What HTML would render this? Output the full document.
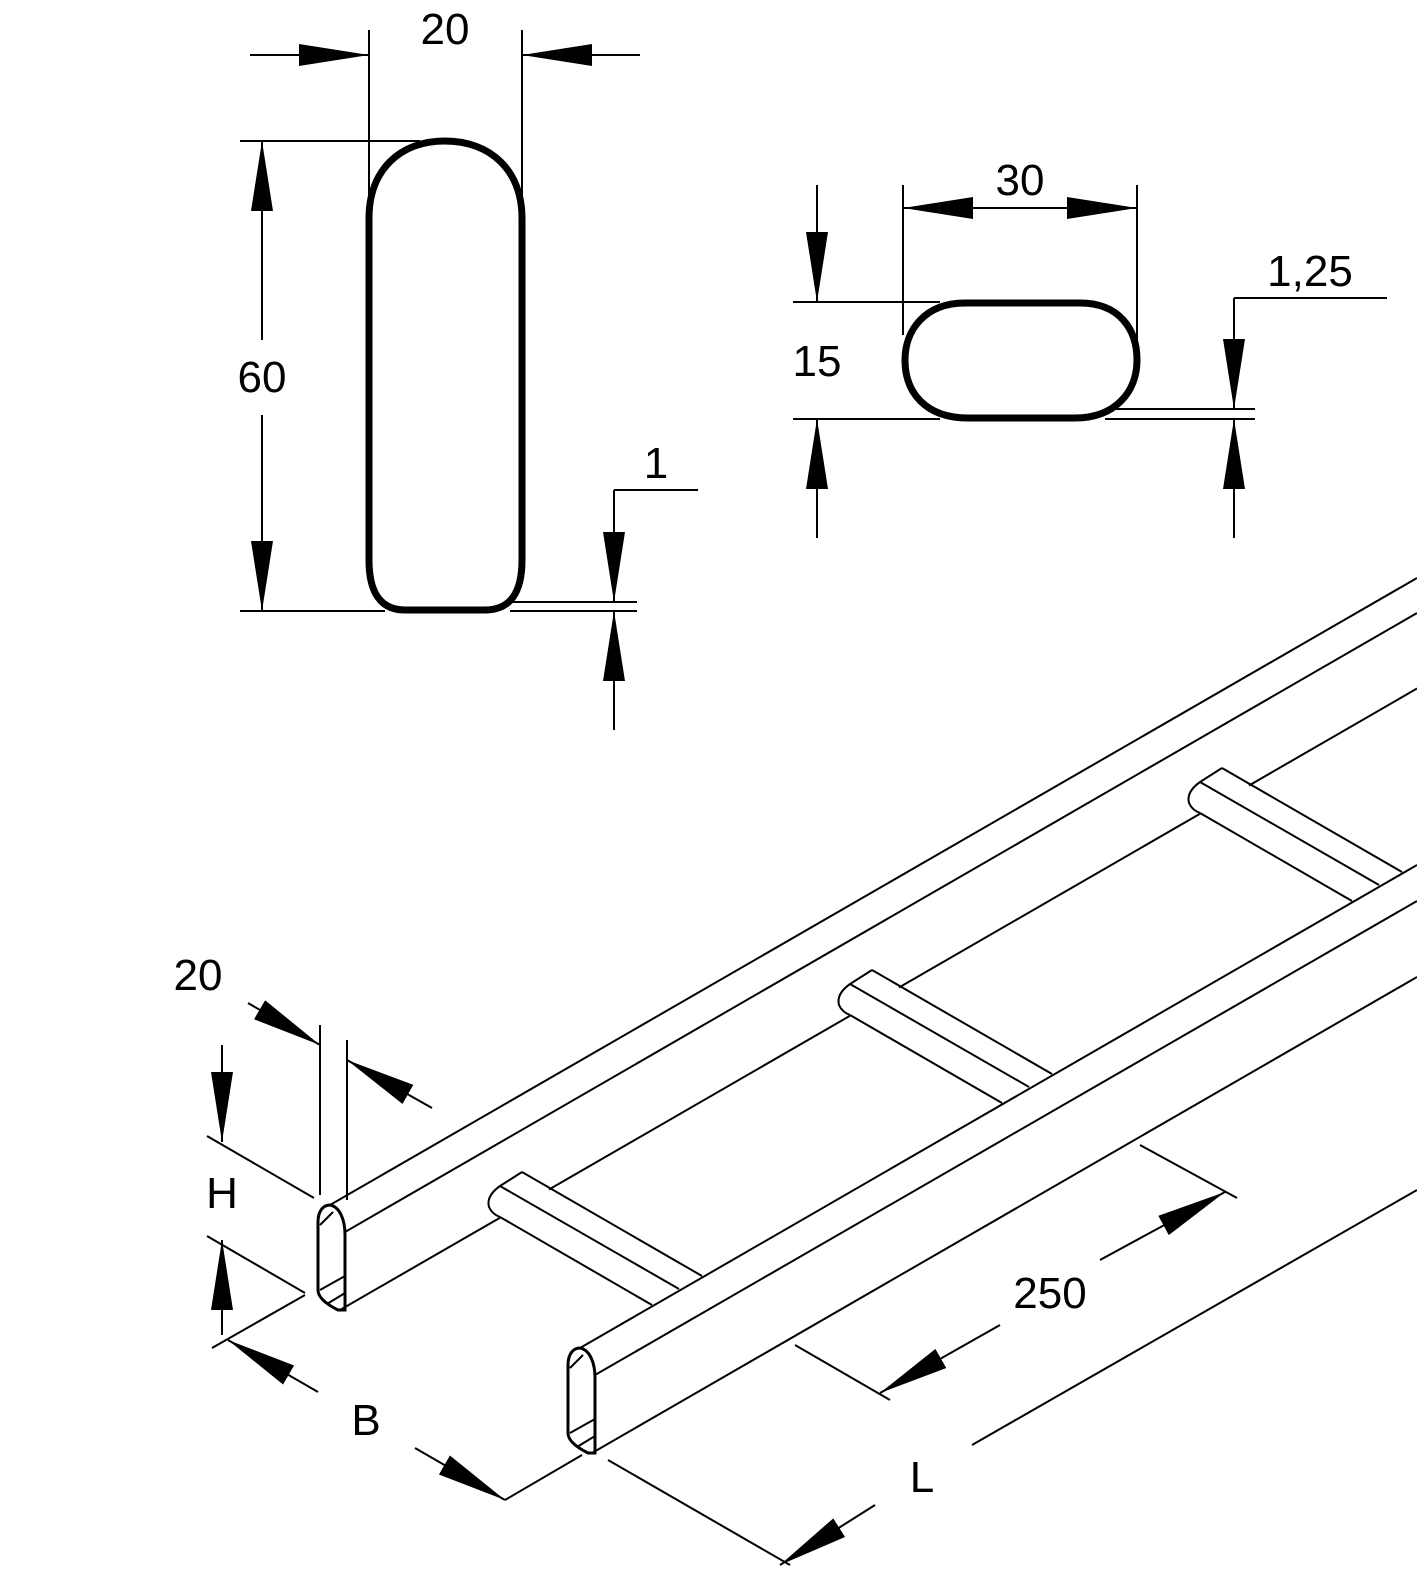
<!DOCTYPE html>
<html><head><meta charset="utf-8"><style>
html,body{margin:0;padding:0;background:#fff}
svg{display:block}
text{font-family:"Liberation Sans",Arial,sans-serif;font-size:44px;fill:#000}
</style></head><body>
<svg width="1417" height="1575" viewBox="0 0 1417 1575" xmlns="http://www.w3.org/2000/svg">
<defs>
<marker id="a" markerUnits="userSpaceOnUse" markerWidth="80" markerHeight="30" refX="70" refY="11" orient="auto">
<path d="M0,0 L70,11 L0,22 Z" fill="#000"/>
</marker>
</defs>
<g stroke="#000" stroke-width="2" fill="none">
<!-- Profile 1 -->
<path d="M369,560 L369,218 C369,170 400,141 445,141 C490,141 522,170 522,218 L522,560 Q522,610 485,610 L405,610 Q369,610 369,560 Z" stroke-width="7"/>
<line x1="369" y1="30" x2="369" y2="200"/>
<line x1="522" y1="30" x2="522" y2="200"/>
<line x1="250" y1="55" x2="369" y2="55"/>
<line x1="522" y1="55" x2="640" y2="55"/>
<line x1="299" y1="55" x2="369" y2="55" marker-end="url(#a)"/>
<line x1="592" y1="55" x2="522" y2="55" marker-end="url(#a)"/>
<line x1="240" y1="141" x2="420" y2="141"/>
<line x1="240" y1="611" x2="385" y2="611"/>
<line x1="262" y1="340" x2="262" y2="141" marker-end="url(#a)"/>
<line x1="262" y1="415" x2="262" y2="611" marker-end="url(#a)"/>
<line x1="510" y1="602" x2="637" y2="602"/>
<line x1="510" y1="611" x2="637" y2="611"/>
<line x1="698" y1="490" x2="614" y2="490"/>
<line x1="614" y1="490" x2="614" y2="602" marker-end="url(#a)"/>
<line x1="614" y1="730" x2="614" y2="611" marker-end="url(#a)"/>
<!-- Profile 2 -->
<path d="M965,303 L1080,303 C1120,303 1137,330 1137,360 C1137,392 1115,418 1075,418 L968,418 C925,418 905,392 905,360 C905,330 925,303 965,303 Z" stroke-width="7"/>
<line x1="903" y1="185" x2="903" y2="335"/>
<line x1="1137" y1="185" x2="1137" y2="340"/>
<line x1="975" y1="208" x2="903" y2="208" marker-end="url(#a)"/>
<line x1="1065" y1="208" x2="1137" y2="208" marker-end="url(#a)"/>
<line x1="975" y1="208" x2="1065" y2="208"/>
<line x1="793" y1="302" x2="940" y2="302"/>
<line x1="793" y1="419" x2="940" y2="419"/>
<line x1="817" y1="185" x2="817" y2="302" marker-end="url(#a)"/>
<line x1="817" y1="538" x2="817" y2="419" marker-end="url(#a)"/>
<line x1="1105" y1="409" x2="1255" y2="409"/>
<line x1="1105" y1="419" x2="1255" y2="419"/>
<line x1="1387" y1="298" x2="1234" y2="298"/>
<line x1="1234" y1="298" x2="1234" y2="409" marker-end="url(#a)"/>
<line x1="1234" y1="538" x2="1234" y2="419" marker-end="url(#a)"/>
<!-- Left rail -->
<line x1="330" y1="1205" x2="1417" y2="578"/>
<line x1="345" y1="1232" x2="1417" y2="613"/>
<line x1="340" y1="1310" x2="500" y2="1217.7"/>
<line x1="549" y1="1189.5" x2="850" y2="1015.8"/>
<line x1="899" y1="987.5" x2="1200" y2="813.8"/>
<line x1="1249" y1="785.5" x2="1417" y2="688.5"/>
<path d="M318,1222 C318,1210 324,1205 330,1205 C340,1207 345,1220 345,1235 L345,1310 L338,1310 C328,1305 318,1298 318,1290 Z" stroke-width="3"/>
<line x1="320" y1="1225" x2="333" y2="1212"/>
<line x1="320" y1="1290" x2="345" y2="1276"/>
<line x1="327" y1="1304" x2="345" y2="1293"/>
<!-- Right rail -->
<line x1="580" y1="1348" x2="1417" y2="865"/>
<line x1="595" y1="1375" x2="1417" y2="901"/>
<line x1="592" y1="1453" x2="1417" y2="977"/>
<path d="M568,1365 C568,1353 574,1348 580,1348 C590,1350 595,1363 595,1378 L595,1453 L588,1453 C578,1448 568,1441 568,1433 Z" stroke-width="3"/>
<line x1="570" y1="1368" x2="583" y2="1355"/>
<line x1="570" y1="1433" x2="595" y2="1419"/>
<line x1="577" y1="1447" x2="595" y2="1436"/>
<!-- Rungs -->
<g id="r">
<line x1="522" y1="1172" x2="702" y2="1276"/>
<line x1="500" y1="1186" x2="679" y2="1289"/>
<line x1="500" y1="1217" x2="652" y2="1305"/>
<path d="M500,1186 L522,1172 M500,1186 Q486,1196 489,1207 Q492,1214 500,1217"/>
</g>
<use href="#r" transform="translate(350,-202)"/>
<use href="#r" transform="translate(700,-404)"/>
<!-- Bottom dims -->
<line x1="320" y1="1025" x2="320" y2="1195"/>
<line x1="347" y1="1040" x2="347" y2="1200"/>
<line x1="248" y1="1003" x2="320" y2="1045" marker-end="url(#a)"/>
<line x1="432" y1="1108" x2="347" y2="1060" marker-end="url(#a)"/>
<line x1="207" y1="1136" x2="314" y2="1198"/>
<line x1="207" y1="1236" x2="305" y2="1293"/>
<line x1="222" y1="1045" x2="222" y2="1142" marker-end="url(#a)"/>
<line x1="222" y1="1335" x2="222" y2="1240" marker-end="url(#a)"/>
<line x1="212" y1="1348" x2="305" y2="1295"/>
<line x1="505" y1="1500" x2="582" y2="1455"/>
<line x1="318" y1="1392" x2="228" y2="1340" marker-end="url(#a)"/>
<line x1="415" y1="1448" x2="505" y2="1500" marker-end="url(#a)"/>
<line x1="795" y1="1345" x2="890" y2="1400"/>
<line x1="1140" y1="1145" x2="1237" y2="1198"/>
<line x1="1000" y1="1325" x2="880" y2="1393" marker-end="url(#a)"/>
<line x1="1100" y1="1260" x2="1225" y2="1192" marker-end="url(#a)"/>
<line x1="608" y1="1460" x2="790" y2="1565"/>
<line x1="875" y1="1505" x2="780" y2="1565" marker-end="url(#a)"/>
<line x1="972" y1="1445" x2="1417" y2="1190"/>
</g>
<text x="445" y="44" text-anchor="middle">20</text>
<text x="262" y="392" text-anchor="middle">60</text>
<text x="656" y="478" text-anchor="middle">1</text>
<text x="1020" y="195" text-anchor="middle">30</text>
<text x="817" y="376" text-anchor="middle">15</text>
<text x="1310" y="286" text-anchor="middle">1,25</text>
<text x="198" y="990" text-anchor="middle">20</text>
<text x="222" y="1208" text-anchor="middle">H</text>
<text x="366" y="1435" text-anchor="middle">B</text>
<text x="1050" y="1308" text-anchor="middle">250</text>
<text x="922" y="1492" text-anchor="middle">L</text>
</svg>
</body></html>
